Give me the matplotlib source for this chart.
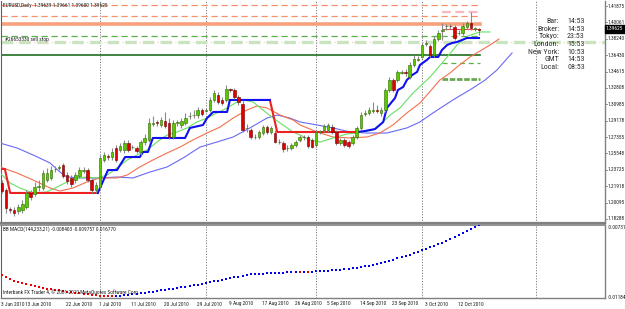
import matplotlib
matplotlib.use('Agg')
import matplotlib.pyplot as plt
import matplotlib.transforms as mtransforms
from matplotlib import font_manager
import numpy as np

# ---------------- DATA ----------------
opens = [1.2228,1.2150,1.1935,1.1929,1.1917,1.1929,1.1962,1.2117,1.2106,1.2183,
         1.2172,1.2261,1.2283,1.2377,1.2399,1.2427,1.2316,1.2283,1.2261,1.2305,
         1.2365,1.2371,1.2261,1.2150,1.2183,1.2482,1.2521,1.2515,1.2615,1.2593,
         1.2593,1.2670,1.2621,1.2615,1.2571,1.2681,1.2704,1.2886,1.2897,1.2869,
         1.2914,1.2892,1.2737,1.2892,1.2869,1.2892,1.2964,1.2975,1.2980,1.3036,
         1.3030,1.3036,1.3147,1.3202,1.3147,1.3147,1.3263,1.3257,1.3180,1.3102,
         1.2831,1.2814,1.2732,1.2737,1.2781,1.2848,1.2792,1.2781,1.2676,1.2670,
         1.2610,1.2615,1.2648,1.2704,1.2737,1.2737,1.2704,1.2648,1.2792,1.2814,
         1.2814,1.2848,1.2792,1.2670,1.2704,1.2682,1.2670,1.2737,1.2836,1.2997,
         1.3003,1.3030,1.3030,1.3003,1.3036,1.3257,1.3368,1.3368,1.3451,1.3451,
         1.3401,1.3534,1.3595,1.3623,1.3772,1.3745,1.3645,1.3822,1.3916,1.3961,
         1.3966,1.3955,1.3883,1.3889,1.3955,1.3999,1.3933,1.3928]
highs = [1.2261,1.2172,1.1962,1.1962,1.1995,1.2039,1.2150,1.2150,1.2239,1.2261,
         1.2371,1.2394,1.2416,1.2416,1.2427,1.2449,1.2349,1.2316,1.2349,1.2405,
         1.2405,1.2394,1.2283,1.2239,1.2537,1.2571,1.2549,1.2615,1.2648,1.2670,
         1.2704,1.2704,1.2648,1.2637,1.2704,1.2770,1.2947,1.2969,1.2925,1.2958,
         1.3014,1.2947,1.2925,1.2925,1.2947,1.3003,1.3014,1.3036,1.3069,1.3058,
         1.3058,1.3180,1.3257,1.3235,1.3180,1.3313,1.3279,1.3279,1.3202,1.3147,
         1.2881,1.2836,1.2770,1.2814,1.2870,1.2870,1.2858,1.2814,1.2715,1.2692,
         1.2648,1.2670,1.2704,1.2759,1.2759,1.2759,1.2726,1.2814,1.2814,1.2881,
         1.2892,1.2881,1.2814,1.2726,1.2726,1.2704,1.2759,1.2858,1.3014,1.3036,
         1.3069,1.3124,1.3091,1.3069,1.3279,1.3401,1.3390,1.3479,1.3479,1.3490,
         1.3567,1.3645,1.3634,1.3789,1.3811,1.3767,1.3855,1.3922,1.3999,1.3988,
         1.3988,1.3977,1.3922,1.3999,1.4021,1.4121,1.3955,1.3944]
lows = [1.2117,1.1895,1.1895,1.1862,1.1884,1.1895,1.1940,1.2039,1.2083,1.2139,
        1.2150,1.2239,1.2261,1.2349,1.2371,1.2283,1.2216,1.2183,1.2228,1.2283,
        1.2338,1.2239,1.2117,1.2117,1.2161,1.2460,1.2482,1.2482,1.2460,1.2571,
        1.2560,1.2571,1.2604,1.2560,1.2537,1.2648,1.2681,1.2858,1.2858,1.2847,
        1.2836,1.2715,1.2715,1.2858,1.2836,1.2869,1.2936,1.2947,1.2947,1.2969,
        1.3014,1.3014,1.3124,1.3102,1.3091,1.3124,1.3235,1.3158,1.3091,1.2792,
        1.2792,1.2715,1.2715,1.2715,1.2759,1.2770,1.2770,1.2670,1.2659,1.2571,
        1.2582,1.2593,1.2626,1.2682,1.2704,1.2615,1.2615,1.2626,1.2770,1.2792,
        1.2792,1.2770,1.2648,1.2648,1.2626,1.2615,1.2648,1.2715,1.2814,1.2969,
        1.2981,1.3003,1.3003,1.2969,1.3014,1.3235,1.3235,1.3346,1.3434,1.3412,
        1.3379,1.3512,1.3578,1.3612,1.3745,1.3623,1.3623,1.3800,1.3811,1.3922,
        1.3933,1.3811,1.3866,1.3866,1.3933,1.3922,1.3911,1.3866]
closes = [1.2139,1.1951,1.1929,1.1895,1.1962,1.1995,1.2117,1.2072,1.2183,1.2188,
          1.2338,1.2338,1.2371,1.2383,1.2405,1.2305,1.2250,1.2216,1.2316,1.2371,
          1.2371,1.2261,1.2150,1.2205,1.2504,1.2537,1.2515,1.2571,1.2482,1.2637,
          1.2670,1.2593,1.2626,1.2582,1.2681,1.2726,1.2892,1.2892,1.2892,1.2925,
          1.2858,1.2737,1.2892,1.2897,1.2914,1.2947,1.2969,1.2980,1.3036,1.2992,
          1.3036,1.3147,1.3224,1.3124,1.3113,1.3268,1.3257,1.3180,1.3124,1.2814,
          1.2836,1.2737,1.2737,1.2792,1.2848,1.2792,1.2836,1.2682,1.2682,1.2604,
          1.2615,1.2648,1.2682,1.2737,1.2732,1.2637,1.2626,1.2792,1.2797,1.2859,
          1.2870,1.2792,1.2670,1.2704,1.2648,1.2637,1.2737,1.2836,1.2981,1.3003,
          1.3036,1.3036,1.3025,1.3036,1.3257,1.3368,1.3257,1.3457,1.3457,1.3446,
          1.3534,1.3601,1.3601,1.3756,1.3778,1.3645,1.3822,1.3889,1.3922,1.3966,
          1.3961,1.3833,1.3889,1.3966,1.3999,1.3944,1.3939,1.3922]

# Alligator-style moving averages (bar position, price)
lips_x = [-0.5,2.0,4.4,7.6,11.0,13.5,15.9,18.4,20.8,23.3,25.8,28.2,30.7,33.1,35.6,38.0,40.5,42.9,
          45.4,47.8,50.3,52.7,55.2,57.6,59.1,61.6,64.0,66.5,68.9,71.4,73.1,75.5,78.0,81.2,84.6,
          87.1,91.0,93.2,95.2,97.6,100.8,105.0,109.2,111.6,114.3,117.2,119.7]
lips_y = [1.2338,1.2227,1.2172,1.2117,1.2128,1.2183,1.2238,1.2283,1.2294,1.2283,1.2316,1.2394,
          1.2482,1.2537,1.2593,1.2681,1.2759,1.2792,1.2837,1.2903,1.2947,1.3003,1.3058,1.3124,
          1.3147,1.3124,1.3036,1.2947,1.2870,1.2792,1.2759,1.2704,1.2681,1.2726,1.2770,1.2781,
          1.2814,1.2892,1.2980,1.3058,1.3224,1.3401,1.3623,1.3756,1.3855,1.3900,1.3900]
teeth_x = [-0.5,3.7,7.6,11.8,14.2,17.4,20.8,24.0,28.2,30.7,33.8,37.0,40.5,43.7,46.8,50.3,53.5,
           56.7,60.1,62.5,65.0,68.2,71.4,73.1,77.3,81.2,85.4,89.5,92.7,95.9,99.3,102.5,105.7,
           107.4,109.9,111.6,114.8,119.7,121.9]
teeth_y = [1.2405,1.2338,1.2261,1.2172,1.2139,1.2172,1.2238,1.2283,1.2283,1.2316,1.2405,1.2482,
           1.2560,1.2626,1.2704,1.2781,1.2848,1.2947,1.3036,1.3080,1.3058,1.2980,1.2925,1.2870,
           1.2792,1.2737,1.2726,1.2737,1.2781,1.2870,1.3003,1.3113,1.3279,1.3368,1.3446,1.3512,
           1.3623,1.3756,1.3822]
jaw_x = [-0.5,3.7,7.6,11.8,14.2,15.9,19.9,24.0,28.2,32.1,36.3,40.5,44.4,48.6,52.7,56.7,60.8,
         65.0,67.5,70.6,73.1,77.3,81.2,85.4,89.5,94.4,99.3,102.5,105.7,110.6,115.5,118.5,121.4,125.1]
jaw_y = [1.2670,1.2615,1.2538,1.2449,1.2349,1.2294,1.2283,1.2283,1.2294,1.2283,1.2349,1.2405,
         1.2504,1.2626,1.2681,1.2737,1.2837,1.2947,1.2980,1.2947,1.2903,1.2870,1.2837,1.2792,
         1.2781,1.2781,1.2837,1.2903,1.3003,1.3147,1.3279,1.3368,1.3479,1.3667]

# trailing stop line (blue = long, red = short)
stop_red1_x = [-0.5,0.7,2.0,23.5]
stop_red1_y = [1.2383,1.2383,1.2117,1.2117]
stop_blue1_x = [23.5,26.0,28.2,30.2,33.8,34.6,35.8,37.0,44.9,46.1,49.3,50.3,51.8,55.2,55.9,65.7]
stop_blue1_y = [1.2117,1.2371,1.2371,1.2515,1.2515,1.2571,1.2571,1.2726,1.2726,1.2837,1.2870,
                1.2947,1.3014,1.3014,1.3147,1.3147]
stop_red2_x = [65.7,67.5,87.1]
stop_red2_y = [1.3147,1.2792,1.2792]
stop_blue2_x = [87.1,89.0,91.5,93.5,94.4,96.4,97.1,98.4,99.3,100.6,101.8,102.5,104.2,105.0,107.0,
                107.9,109.2,110.4,111.6,114.0,117.0]
stop_blue2_y = [1.2792,1.2803,1.2825,1.2903,1.3058,1.3169,1.3257,1.3291,1.3368,1.3423,1.3457,
                1.3534,1.3590,1.3623,1.3623,1.3700,1.3756,1.3778,1.3789,1.3833,1.3833]

# horizontal levels
level_salmon_dash = [1.4199, 1.4077]
level_pink_short = [1.4121]
level_salmon_solid = [1.3988]
level_red_short = [1.3933]
level_green_dash = [1.3855]
level_order = [1.3789]
level_darkgreen = [1.3645]
level_green_short = [1.3556]
level_lime_short = [1.3379]
current_price = 1.3933
current_label = '1.39625'

# oscillator (one value per bar)
macd = [-0.01042,-0.01055,-0.01067,-0.01077,-0.01084,-0.01090,-0.01098,-0.01106,-0.01114,-0.01119,
        -0.01124,-0.01129,-0.01133,-0.01137,-0.01141,-0.01145,-0.01150,-0.01153,-0.01157,-0.01160,
        -0.01163,-0.01166,-0.01169,-0.01171,-0.01174,-0.01176,-0.01177,-0.01178,-0.01176,-0.01174,
        -0.01172,-0.01169,-0.01166,-0.01163,-0.01159,-0.01156,-0.01153,-0.01149,-0.01145,-0.01141,
        -0.01137,-0.01133,-0.01129,-0.01124,-0.01120,-0.01117,-0.01113,-0.01108,-0.01104,-0.01098,
        -0.01093,-0.01088,-0.01083,-0.01077,-0.01071,-0.01066,-0.01061,-0.01056,-0.01051,-0.01045,
        -0.01042,-0.01038,-0.01036,-0.01034,-0.01032,-0.01031,-0.01029,-0.01028,-0.01027,-0.01026,
        -0.01025,-0.01024,-0.01023,-0.01023,-0.01021,-0.01021,-0.01019,-0.01018,-0.01017,-0.01016,
        -0.01014,-0.01012,-0.01011,-0.01008,-0.01005,-0.01002,-0.00999,-0.00995,-0.00990,-0.00985,
        -0.00980,-0.00974,-0.00968,-0.00963,-0.00956,-0.00949,-0.00942,-0.00934,-0.00926,-0.00918,
        -0.00910,-0.00901,-0.00891,-0.00882,-0.00873,-0.00863,-0.00853,-0.00843,-0.00832,-0.00820,
        -0.00809,-0.00797,-0.00785,-0.00772,-0.00759,-0.00747,-0.00734,-0.00721]

month_starts = [24, 50, 77, 103, 131]
date_pos = [0, 6, 16, 24, 32, 40, 48, 56, 64, 72, 80, 88, 96, 104, 112]
date_labels = ['3 Jun 2010','13 Jun 2010','22 Jun 2010','1 Jul 2010','11 Jul 2010','20 Jul 2010',
               '29 Jul 2010','9 Aug 2010','17 Aug 2010','26 Aug 2010','5 Sep 2010','14 Sep 2010',
               '23 Sep 2010','3 Oct 2010','12 Oct 2010']
price_ticks = [1.41875,1.40061,1.38240,1.36430,1.34615,1.32808,1.30985,1.29178,1.27355,
               1.25548,1.23725,1.21918,1.20095,1.18288]
macd_ticks = [-0.00731, -0.01184]
clock_names = ['Bar:','Broker:','Tokyo:','London:','New York:','GMT','Local:']
clock_times = ['14:53','14:53','23:53','15:53','10:53','14:53','08:53']
header = 'EURUSD,Daily  1.39639 1.39661 1.39600 1.39625'
order_label = '#26653330 sell stop'
macd_header = 'BB MACD(144,233,21) -0.008403 -0.009757 0.016770'
footer = 'Interbank FX Trader 4, \u00a9 2001-2010 MetaQuotes Software Corp.'

# ---------------- FONT ----------------
def pick_font(cands):
    for name in cands:
        try:
            font_manager.findfont(font_manager.FontProperties(family=name), fallback_to_default=False)
            return name
        except Exception:
            pass
    return 'DejaVu Sans'

SMALL = pick_font(['Liberation Sans Narrow', 'DejaVu Sans Condensed', 'Roboto Condensed',
                   'Open Sans Condensed', 'Liberation Sans'])
FAM = [SMALL, 'DejaVu Sans']
NARROW = ('Narrow' in SMALL) or ('Condensed' in SMALL)
FS = 3.9 if NARROW else 3.5
FS_CLOCK = 5.7 if NARROW else 5.0

# ---------------- FIGURE ----------------
W, H = 625, 309
fig = plt.figure(figsize=(W/100, H/100), dpi=100)
fig.patch.set_facecolor('white')

def box(x0, y0, x1, y1):
    return [x0/W, 1-y1/H, (x1-x0)/W, (y1-y0)/H]

ax1 = fig.add_axes(box(1, 1, 605, 223))
ax2 = fig.add_axes(box(1, 225, 605, 298))
XL = (-0.245, 147.9)
for ax in (ax1, ax2):
    ax.set_xlim(*XL)
    ax.set_xticks([]); ax.set_yticks([])
    ax.set_facecolor('white')
    for s in ax.spines.values():
        s.set_visible(False)
    ax.spines['right'].set_visible(True)
    ax.spines['right'].set_color('#808080')
    ax.spines['right'].set_linewidth(1)
    ax.spines['left'].set_visible(True)
    ax.spines['left'].set_color('#606060')
    ax.spines['left'].set_linewidth(0.8)
ax1.set_ylim(1.17845, 1.42429)
ax2.set_ylim(-0.01190, -0.00718)
ax1.spines['bottom'].set_visible(True)
ax1.spines['bottom'].set_color('#808080')
ax1.spines['bottom'].set_linewidth(1.6)
ax2.spines['top'].set_visible(True)
ax2.spines['top'].set_color('#808080')
ax2.spines['top'].set_linewidth(1.2)
ax2.spines['bottom'].set_visible(True)
ax2.spines['bottom'].set_color('#808080')
ax2.spines['bottom'].set_linewidth(1)

# month separators
for mpos in month_starts:
    for ax in (ax1, ax2):
        ax.axvline(mpos, color='#7a7a7a', lw=0.7, ls=(0, (1.2, 1.6)), zorder=1)

# horizontal levels
x_end = 117.2
x_short = 107.9
for v in level_salmon_dash:
    ax1.plot([XL[0], x_end], [v, v], color='#f4906c', lw=0.9, ls=(0, (5, 3)), zorder=2)
for v in level_pink_short:
    ax1.plot([x_short, x_end], [v, v], color='#f6b9c0', lw=1.6, ls=(0, (4, 2)), zorder=2)
for v in level_salmon_solid:
    ax1.plot([XL[0], x_end], [v, v], color='#f7a07c', lw=2.6, zorder=2)
for v in level_red_short:
    ax1.plot([x_short, x_end], [v, v], color='#e05050', lw=0.8, zorder=2)
for v in level_green_dash:
    ax1.plot([XL[0], x_end], [v, v], color='#58b04a', lw=0.9, ls=(0, (5, 3)), zorder=2)
for v in level_order:
    ax1.plot([XL[0], XL[1]], [v, v], color='#c8e6c0', lw=2.4, ls=(0, (3.5, 1.8)), zorder=2)
    ax1.plot([XL[0], XL[1]], [v, v], color='#f1c4c4', lw=0.8, ls=(2.5, (1, 4.3)), zorder=2)
for v in level_darkgreen:
    ax1.plot([XL[0], x_end], [v, v], color='#1f6e1f', lw=1.2, zorder=2)
for v in level_green_short:
    ax1.plot([x_short, x_end], [v, v], color='#58b04a', lw=0.9, ls=(0, (4, 3)), zorder=2)
for v in level_lime_short:
    ax1.plot([x_short, x_end], [v, v], color='#6aa84f', lw=2.0, ls=(0, (2, 0.6)), zorder=2)

# moving averages
ax1.plot(jaw_x, jaw_y, color='#6a6af5', lw=0.8, zorder=3)
ax1.plot(teeth_x, teeth_y, color='#f5704c', lw=0.8, zorder=3)
ax1.plot(lips_x, lips_y, color='#66e066', lw=0.8, zorder=3)

# trailing stop
ax1.plot(stop_red1_x, stop_red1_y, color='#ee2020', lw=1.5, zorder=4)
ax1.plot(stop_red2_x, stop_red2_y, color='#ee2020', lw=1.5, zorder=4)
ax1.plot(stop_blue1_x, stop_blue1_y, color='#1010f0', lw=1.5, zorder=4)
ax1.plot(stop_blue2_x, stop_blue2_y, color='#1010f0', lw=1.5, zorder=4)

# candles
o = np.array(opens); h = np.array(highs); l = np.array(lows); c = np.array(closes)
x = np.arange(len(o))
ax1.vlines(x, l, h, color='#8a8a8a', lw=0.8, zorder=5)
bull = c >= o
body = np.maximum(np.abs(c - o), 0.0009)
bottom = np.minimum(o, c)
ax1.bar(x[bull], body[bull], bottom=bottom[bull], width=0.62, color='#5cc800',
        edgecolor='#2f6a00', linewidth=0.4, zorder=6)
ax1.bar(x[~bull], body[~bull], bottom=bottom[~bull], width=0.62, color='#e00000',
        edgecolor='#6a0000', linewidth=0.4, zorder=6)

# oscillator dots
m = np.array(macd)
rising = np.concatenate([[False], np.diff(m) > 0])
ax2.scatter(x[~rising], m[~rising], marker='s', s=2.8, color='#ee0000', linewidths=0, zorder=4)
ax2.scatter(x[rising], m[rising], marker='s', s=2.8, color='#0000ee', linewidths=0, zorder=4)

# axis labels (right side)
tr1 = mtransforms.blended_transform_factory(ax1.transAxes, ax1.transData)
tr2 = mtransforms.blended_transform_factory(ax2.transAxes, ax2.transData)
for v in price_ticks:
    ax1.text(1.004, v, f'{v:.5f}', transform=tr1, fontsize=FS, va='center', ha='left',
             family=FAM, color='#202020', clip_on=False)
    ax1.plot([1.0, 1.0033], [v, v], transform=tr1, color='#808080', lw=0.6, clip_on=False)
for v in macd_ticks:
    ax2.text(1.004, v, f'{v:.5f}', transform=tr2, fontsize=FS, va='center', ha='left',
             family=FAM, color='#202020', clip_on=False)
ax1.text(1.0015, current_price, current_label, transform=tr1, fontsize=FS, va='center', ha='left',
         family=FAM, color='white', clip_on=False,
         bbox=dict(boxstyle='square,pad=0.25', fc='black', ec='black'))

# date labels
for p, t in zip(date_pos, date_labels):
    fig.text((2 + 4.077 * p - 1) / W, 1 - 304 / H, t, fontsize=FS, ha='left', va='center',
             family=FAM, color='#202020')

# texts
fig.text(3 / W, 1 - 5 / H, header, fontsize=FS, ha='left', va='center', family=FAM, color='#202020')
fig.text(5 / W, 1 - 40 / H, order_label, fontsize=FS, ha='left', va='center', family=FAM, color='#202020')
fig.text(3 / W, 1 - 229 / H, macd_header, fontsize=FS, ha='left', va='center', family=FAM, color='#202020')
fig.text(3 / W, 1 - 292 / H, footer, fontsize=FS, ha='left', va='center', family=FAM, color='#202020')
clock_y = [21, 29, 36, 43.5, 52, 59, 67]
for n, t, yy in zip(clock_names, clock_times, clock_y):
    fig.text(559 / W, 1 - yy / H, n, fontsize=FS_CLOCK, ha='right', va='center', family=FAM, color='#303030')
    fig.text(567 / W, 1 - yy / H, t, fontsize=FS_CLOCK, ha='left', va='center', family=FAM, color='#303030')

fig.savefig('out.png', dpi=100, facecolor='white')
